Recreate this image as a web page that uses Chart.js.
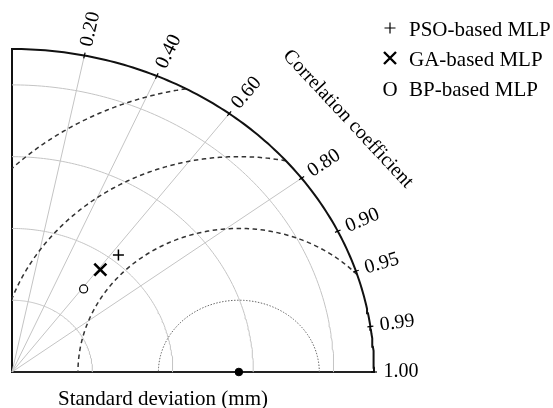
<!DOCTYPE html>
<html>
<head>
<meta charset="utf-8">
<script src="https://cdn.jsdelivr.net/npm/chart.js@4.4.1/dist/chart.umd.min.js"></script>
<style>
  html, body { margin: 0; padding: 0; background: #fff; }
  #wrap { width: 553px; height: 408px; }
</style>
</head>
<body>
<div id="wrap"><canvas id="taylor" width="553" height="408"></canvas></div>
<script>
// ── Data ────────────────────────────────────────────────────────────
const modelNames = ["PSO-based MLP", "GA-based MLP", "BP-based MLP"];
const modelStd   = [2.10, 1.80, 1.46];
const modelCorr  = [0.63, 0.61, 0.61];
const refStd     = 2.82;

const stdMax      = 4.5;
const stdGrid     = [1, 2, 3, 4];
const corrGrid    = [0.2, 0.4, 0.6, 0.8];
const corrTicks   = [0.2, 0.4, 0.6, 0.8, 0.9, 0.95, 0.99, 1.0];
const corrLabels  = ["0.20", "0.40", "0.60", "0.80", "0.90", "0.95", "0.99", "1.00"];
const rmsDashed   = [2, 3, 4];
const rmsDotted   = [1];

const SERIF = '"Liberation Serif", "Times New Roman", serif';

// ── Helpers: points in (std, std) space ────────────────────────────
function polar(s, c) {
	return { x: s * c, y: s * Math.sqrt(Math.max(0, 1 - c * c)) };
}

function stdArc(r) {
	const pts = [];
	for (let i = 0; i <= 120; i++) {
		const t = (Math.PI / 2) * i / 120;
		pts.push({ x: r * Math.cos(t), y: r * Math.sin(t) });
	}
	return pts;
}

function rmsArc(R) {
	// circle around the reference point, kept inside the quarter disc
	const c = refStd;
	const clamp = v => Math.max(-1, Math.min(1, v));
	const t0 = Math.acos(clamp((stdMax * stdMax - c * c - R * R) / (2 * c * R)));
	const t1 = Math.acos(clamp(-c / R));
	const pts = [];
	for (let i = 0; i <= 160; i++) {
		const t = t0 + (t1 - t0) * i / 160;
		pts.push({ x: c + R * Math.cos(t), y: R * Math.sin(t) });
	}
	return pts;
}

function lineSet(data, color, width, dash, order) {
	return {
		data, showLine: true, fill: false,
		borderColor: color, borderWidth: width, borderDash: dash || [],
		pointRadius: 0, tension: 0, clip: false, order,
	};
}

// ── Datasets ───────────────────────────────────────────────────────
const datasets = [];

stdGrid.forEach(r => datasets.push(lineSet(stdArc(r), "#c4c4c4", 1, null, 10)));
corrGrid.forEach(c => datasets.push(lineSet([{ x: 0, y: 0 }, polar(stdMax, c)], "#c4c4c4", 1, null, 10)));
rmsDotted.forEach(R => datasets.push(lineSet(rmsArc(R), "#666", 1, [1.5, 1.5], 8)));
rmsDashed.forEach(R => datasets.push(lineSet(rmsArc(R), "#333", 1.5, [4.5, 3.5], 8)));
datasets.push(lineSet(stdArc(stdMax), "#111", 2, null, 5));

// reference point
datasets.push({
	data: [{ x: refStd, y: 0 }], pointRadius: 3.8, pointBackgroundColor: "#000",
	pointBorderColor: "#000", clip: false, order: 1,
});

// models
const markerStyles = [
	{ pointStyle: "cross",    radius: 5.5, width: 1.5, fill: "#000" },
	{ pointStyle: "crossRot", radius: 8.5, width: 2.6, fill: "#000" },
	{ pointStyle: "circle",   radius: 4,   width: 1.2, fill: "#fff" },
];
modelStd.forEach((s, i) => {
	const m = markerStyles[i];
	datasets.push({
		label: modelNames[i],
		data: [polar(s, modelCorr[i])],
		pointStyle: m.pointStyle, pointRadius: m.radius, pointBorderWidth: m.width,
		pointBorderColor: "#000", pointBackgroundColor: m.fill, clip: false, order: 0,
	});
});

// ── Decorations: ticks, labels, titles, legend ─────────────────────
const taylorDecor = {
	id: "taylorDecor",
	afterDraw(chart) {
		const ctx = chart.ctx;
		const xs = chart.scales.x, ys = chart.scales.y;
		const px = p => ({ x: xs.getPixelForValue(p.x), y: ys.getPixelForValue(p.y) });
		const o = px({ x: 0, y: 0 });

		ctx.save();
		ctx.fillStyle = "#000";
		ctx.strokeStyle = "#000";

		// correlation ticks + labels
		ctx.font = "20px " + SERIF;
		ctx.textAlign = "center";
		ctx.textBaseline = "middle";
		corrTicks.forEach((c, i) => {
			const p = px(polar(stdMax, c));
			let dx = p.x - o.x, dy = p.y - o.y;
			const len = Math.hypot(dx, dy);
			dx /= len; dy /= len;
			ctx.lineWidth = 1.2;
			ctx.beginPath();
			ctx.moveTo(p.x - dx * 3, p.y - dy * 3);
			ctx.lineTo(p.x + dx * 3, p.y + dy * 3);
			ctx.stroke();
			ctx.save();
			ctx.translate(p.x + dx * 27, p.y + dy * 27);
			ctx.rotate(Math.atan2(dy, dx));
			ctx.fillText(corrLabels[i], 0, 0);
			ctx.restore();
		});

		// "Correlation coefficient"
		ctx.save();
		ctx.translate(348, 119);
		ctx.rotate(47 * Math.PI / 180);
		ctx.fillText("Correlation coefficient", 0, 0);
		ctx.restore();

		// x title
		ctx.font = "21px " + SERIF;
		ctx.textBaseline = "alphabetic";
		ctx.fillText("Standard deviation (mm)", 163, 404.5);

		// legend
		const lx = 390, tx = 409, baseY = [35.5, 65.5, 95.5];
		ctx.textAlign = "left";
		modelNames.forEach((name, i) => {
			const cy = baseY[i] - 7.5;
			ctx.lineWidth = i === 1 ? 2.4 : 1.2;
			if (i === 0) {
				ctx.beginPath();
				ctx.moveTo(lx - 5.5, cy); ctx.lineTo(lx + 5.5, cy);
				ctx.moveTo(lx, cy - 5.5); ctx.lineTo(lx, cy + 5.5);
				ctx.stroke();
			} else if (i === 1) {
				ctx.beginPath();
				ctx.moveTo(lx - 6, cy - 6); ctx.lineTo(lx + 6, cy + 6);
				ctx.moveTo(lx + 6, cy - 6); ctx.lineTo(lx - 6, cy + 6);
				ctx.stroke();
			} else {
				ctx.textAlign = "center";
				ctx.fillText("O", lx, baseY[i]);
				ctx.textAlign = "left";
			}
			ctx.fillText(name, tx, baseY[i]);
		});
		ctx.restore();
	},
};

// ── Chart ──────────────────────────────────────────────────────────
new Chart(document.getElementById("taylor"), {
	type: "scatter",
	data: { datasets },
	options: {
		responsive: false,
		animation: false,
		events: [],
		devicePixelRatio: 1,
		layout: { padding: { left: 12, top: 49, right: 179, bottom: 36 } },
		plugins: { legend: { display: false }, tooltip: { enabled: false } },
		scales: {
			x: {
				type: "linear", min: 0, max: stdMax,
				grid: { display: false, drawTicks: false },
				ticks: { display: false },
				border: { display: true, color: "#222", width: 2 },
			},
			y: {
				type: "linear", min: 0, max: stdMax,
				grid: { display: false, drawTicks: false },
				ticks: { display: false },
				border: { display: true, color: "#111", width: 2 },
			},
		},
	},
	plugins: [taylorDecor],
});
</script>
</body>
</html>
